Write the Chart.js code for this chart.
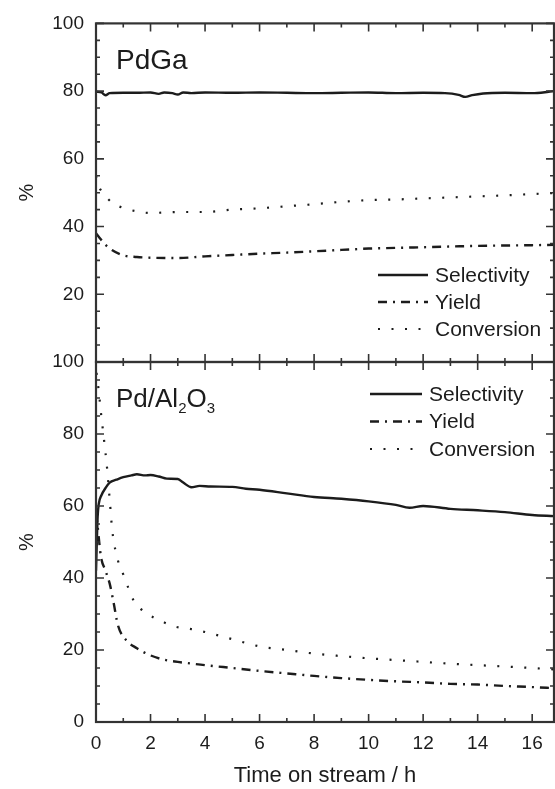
<!DOCTYPE html>
<html>
<head>
<meta charset="utf-8">
<script src="https://cdn.jsdelivr.net/npm/chart.js@4.4.1/dist/chart.umd.min.js"></script>
<style>
html, body { margin: 0; padding: 0; background: #fff; }
#wrap { position: relative; width: 555px; height: 789px; }
canvas { position: absolute; left: 0; top: 0; }
</style>
</head>
<body>
<div id="wrap">
  <canvas id="topChart" width="555" height="789"></canvas>
  <canvas id="bottomChart" width="555" height="789"></canvas>
</div>
<script>
// --- data (time on stream in h, values in %) ---
const pdgaSelTime = [0, 0.2, 0.35, 0.5, 1, 1.5, 2, 2.3, 2.5, 2.8, 3.0, 3.2, 3.5, 4, 5, 6, 7, 8, 9, 10, 11, 12, 12.8, 13.3, 13.55, 13.8, 14.2, 15, 16, 16.6, 16.8];
const pdgaSel = [79.8, 79.6, 78.8, 79.4, 79.5, 79.5, 79.6, 79.2, 79.6, 79.4, 79.0, 79.6, 79.4, 79.6, 79.5, 79.6, 79.5, 79.4, 79.5, 79.6, 79.4, 79.5, 79.4, 78.9, 78.3, 78.8, 79.3, 79.5, 79.4, 79.8, 80.0];

const pdgaTime = [0, 0.1, 0.3, 0.6, 1, 1.5, 2, 3, 4, 5, 6, 7, 8, 9, 10, 11, 12, 13, 14, 15, 16, 16.8];
const pdgaYield = [38, 37, 35, 33, 31.5, 31, 30.8, 30.7, 31.2, 31.6, 32, 32.3, 32.7, 33.1, 33.5, 33.7, 33.9, 34.1, 34.3, 34.4, 34.5, 34.6];
const pdgaConv = [55, 52, 49.5, 47, 45.5, 44.5, 44, 44.3, 44.3, 45, 45.4, 46, 46.6, 47.3, 47.8, 48, 48.3, 48.6, 48.9, 49.2, 49.6, 49.9];

const aluSelTime = [0, 0.03, 0.06, 0.1, 0.2, 0.35, 0.5, 0.75, 1, 1.3, 1.5, 1.8, 2, 2.3, 2.6, 3, 3.2, 3.5, 3.8, 4.2, 5, 5.5, 6, 7, 8, 9, 10, 11, 11.5, 12, 13, 14, 15, 16, 16.8];
const aluSel = [42, 50, 57, 60.5, 63, 65, 66.5, 67.3, 68, 68.5, 68.8, 68.5, 68.6, 68.2, 67.6, 67.5, 66.5, 65.2, 65.6, 65.4, 65.3, 64.8, 64.5, 63.5, 62.5, 62, 61.3, 60.3, 59.5, 60, 59.2, 58.8, 58.3, 57.5, 57.2];

const aluYieldTime = [0, 0.05, 0.18, 0.35, 0.5, 0.65, 0.8, 1.1, 1.5, 2, 2.5, 3, 4, 5, 6, 7, 8, 9, 10, 11, 12, 13, 14, 15, 16, 16.8];
const aluYield = [58, 55, 46, 42, 38.5, 33, 27, 22.8, 20.5, 18.5, 17.3, 16.7, 15.8, 15, 14.2, 13.5, 12.8, 12.2, 11.7, 11.3, 11, 10.6, 10.4, 10, 9.7, 9.4];

const aluConvTime = [0.02, 0.1, 0.18, 0.3, 0.4, 0.5, 0.6, 0.8, 1.0, 1.2, 1.4, 1.9, 2.4, 2.9, 3.5, 4, 5, 6, 7, 8, 9, 10, 11, 12, 13, 14, 15, 16, 16.8];
const aluConv = [97, 92, 86, 78, 71, 62, 53, 45, 41, 37, 33.5, 30, 28, 26.5, 25.8, 25, 23, 21, 20, 19, 18.3, 17.7, 17.2, 16.7, 16.2, 15.8, 15.4, 15, 14.6];

const seriesLabels = ['Selectivity', 'Yield', 'Conversion'];
const yTicks = [0, 20, 40, 60, 80, 100];
const xMax = 16.8;

const fontFam = '"Liberation Sans", Arial, Helvetica, sans-serif';
const ink = '#1c1c1c';
Chart.defaults.font.family = fontFam;
Chart.defaults.color = ink;

function pts(xs, ys) {
    return xs.map((x, i) => ({ x: x, y: ys[i] }));
}

function makeSets(sel, yld, conv) {
    return [
        { label: seriesLabels[0], data: sel, borderColor: ink, borderWidth: 2.4, borderDash: [] },
        { label: seriesLabels[1], data: yld, borderColor: ink, borderWidth: 2.4, borderDash: [9, 6, 2, 6] },
        { label: seriesLabels[2], data: conv, borderColor: ink, borderWidth: 2.2, borderDash: [2, 11.5] }
    ];
}

// frame, inward ticks, in-plot legend and panel name
const panelDecor = {
    id: 'panelDecor',
    afterDraw(chart, args, o) {
        const ctx = chart.ctx;
        const a = chart.chartArea;
        const xs = chart.scales.x, ys = chart.scales.y;
        ctx.save();
        ctx.strokeStyle = '#333';
        ctx.lineWidth = 2.2;
        ctx.setLineDash([]);
        ctx.strokeRect(a.left, a.top, a.right - a.left, a.bottom - a.top);

        ctx.lineWidth = 1.6;
        ctx.beginPath();
        for (let t = 0; t <= Math.floor(xMax); t++) {
            const px = xs.getPixelForValue(t);
            const len = t % 2 === 0 ? 8 : 4;
            ctx.moveTo(px, a.bottom); ctx.lineTo(px, a.bottom - len);
            ctx.moveTo(px, a.top); ctx.lineTo(px, a.top + len);
        }
        for (let v = 0; v <= 100; v += 5) {
            const py = ys.getPixelForValue(v);
            const len = v % 20 === 0 ? 8 : 4;
            ctx.moveTo(a.left, py); ctx.lineTo(a.left + len, py);
            ctx.moveTo(a.right, py); ctx.lineTo(a.right - len, py);
        }
        ctx.stroke();

        // legend
        chart.data.datasets.forEach((ds, i) => {
            const y = o.legendY + i * o.legendGap;
            ctx.strokeStyle = ds.borderColor;
            ctx.lineWidth = ds.borderWidth;
            ctx.setLineDash(ds.borderDash);
            ctx.beginPath();
            ctx.moveTo(o.legendX, y);
            ctx.lineTo(o.legendX + o.sampleLen, y);
            ctx.stroke();
            ctx.setLineDash([]);
            ctx.fillStyle = ink;
            ctx.font = '21px ' + fontFam;
            ctx.textBaseline = 'middle';
            ctx.textAlign = 'left';
            ctx.fillText(ds.label, o.legendX + o.sampleLen + 7, y + 1);
        });

        // panel name, parts may be subscripts
        ctx.fillStyle = ink;
        ctx.textBaseline = 'alphabetic';
        let x = o.nameX;
        o.name.forEach(part => {
            ctx.font = (part.sub ? '15px ' : o.nameSize + 'px ') + fontFam;
            ctx.fillText(part.text, x, o.nameY + (part.sub ? 6 : 0));
            x += ctx.measureText(part.text).width;
        });
        ctx.restore();
    }
};

function yAxis(hideZero) {
    return {
        type: 'linear', min: 0, max: 100,
        afterFit: s => { s.width = 96; },
        afterBuildTicks: s => { s.ticks = yTicks.map(v => ({ value: v })); },
        grid: { display: false, drawTicks: false },
        border: { display: false },
        ticks: {
            padding: 12, color: ink, font: { size: 19 },
            callback: v => (hideZero && v === 0) ? '' : v
        },
        title: { display: true, text: '%', color: ink, font: { size: 20 }, padding: { top: 15, bottom: 0 } }
    };
}

const commonOpts = {
    responsive: false,
    animation: false,
    elements: { point: { radius: 0 }, line: { cubicInterpolationMode: 'monotone', borderCapStyle: 'butt' } },
    events: []
};

new Chart(document.getElementById('topChart'), {
    type: 'line',
    data: { datasets: makeSets(pts(pdgaSelTime, pdgaSel), pts(pdgaTime, pdgaYield), pts(pdgaTime, pdgaConv)) },
    options: Object.assign({}, commonOpts, {
        layout: { padding: { top: 23, bottom: 427, left: 0, right: 1 } },
        plugins: {
            legend: { display: false }, tooltip: { enabled: false },
            panelDecor: { legendX: 378, legendY: 275, legendGap: 27, sampleLen: 50, nameX: 116, nameY: 69, nameSize: 28, name: [{ text: 'PdGa' }] }
        },
        scales: {
            x: { type: 'linear', min: 0, max: xMax, display: false },
            y: yAxis(true)
        }
    }),
    plugins: [panelDecor]
});

new Chart(document.getElementById('bottomChart'), {
    type: 'line',
    data: { datasets: makeSets(pts(aluSelTime, aluSel), pts(aluYieldTime, aluYield), pts(aluConvTime, aluConv)) },
    options: Object.assign({}, commonOpts, {
        layout: { padding: { top: 362, bottom: 0, left: 0, right: 1 } },
        plugins: {
            legend: { display: false }, tooltip: { enabled: false },
            panelDecor: {
                legendX: 370, legendY: 394, legendGap: 27.5, sampleLen: 52, nameX: 116, nameY: 407, nameSize: 26,
                name: [{ text: 'Pd/Al' }, { text: '2', sub: true }, { text: 'O' }, { text: '3', sub: true }]
            }
        },
        scales: {
            x: {
                type: 'linear', min: 0, max: xMax,
                afterFit: s => { s.height = 67; },
                grid: { display: false, drawTicks: false },
                border: { display: false },
                ticks: { stepSize: 2, includeBounds: false, padding: 10, color: ink, font: { size: 19 } },
                title: { display: true, text: 'Time on stream / h', color: ink, font: { size: 22 }, padding: { top: 0, bottom: 0 } }
            },
            y: yAxis(false)
        }
    }),
    plugins: [panelDecor]
});
</script>
</body>
</html>
